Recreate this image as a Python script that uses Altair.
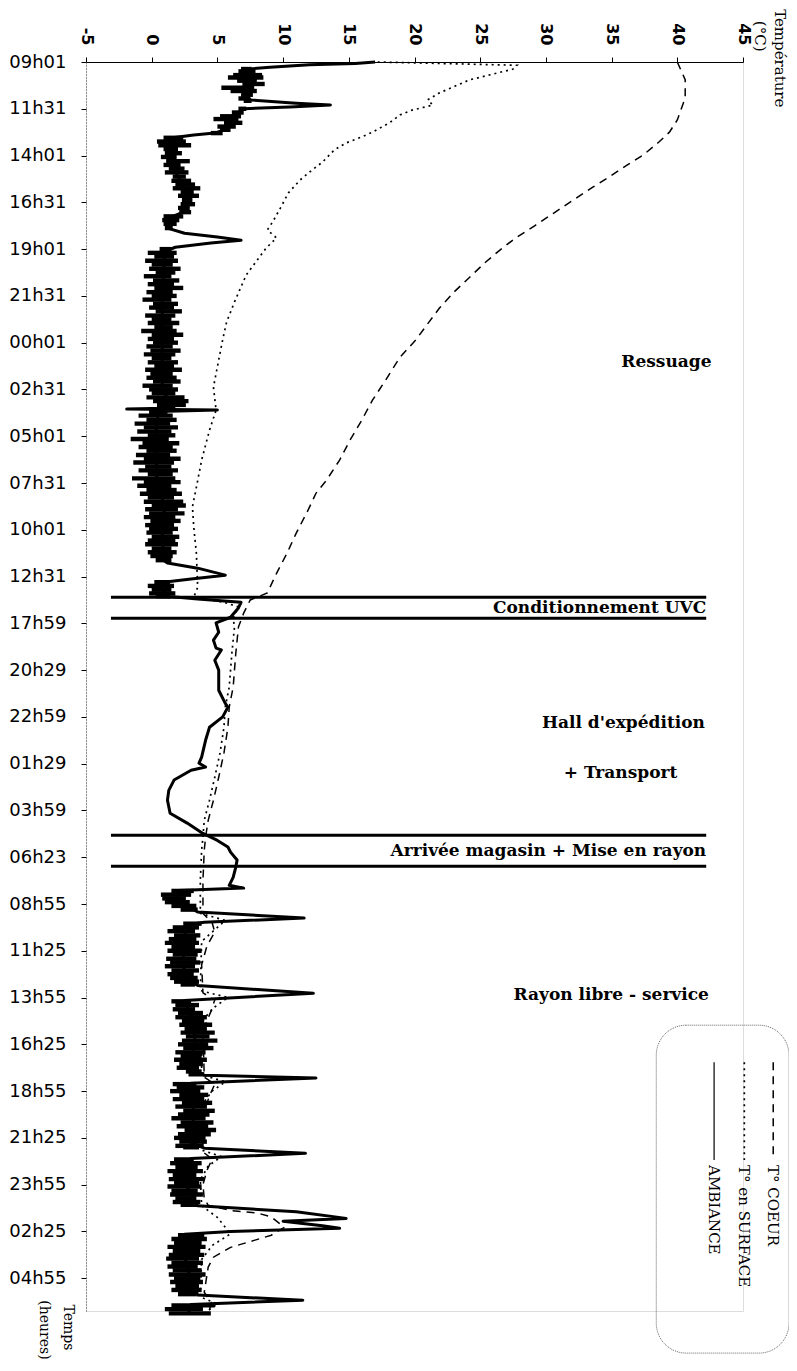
import altair as alt
import pandas as pd

# ---------------- data ----------------
TIME_LABELS = ["09h01", "11h31", "14h01", "16h31", "19h01", "21h31", "00h01", "02h31",
               "05h01", "07h31", "10h01", "12h31", "17h59", "20h29", "22h59", "01h29",
               "03h59", "06h23", "08h55", "11h25", "13h55", "16h25", "18h55", "21h25",
               "23h55", "02h25", "04h55"]
TEMP_TICKS = [-5, 0, 5, 10, 15, 20, 25, 30, 35, 40, 45]

# (time position in tick units, temperature °C)
COEUR = [(0, 40.0), (0.38, 40.6), (0.77, 40.6), (1.24, 40.0), (1.5, 39.4), (1.71, 38.6),
         (1.99, 37.4), (2.2, 36.2), (2.46, 34.8), (2.67, 33.6), (2.95, 32.1), (3.23, 30.6),
         (3.49, 29.2), (3.76, 27.7), (4.02, 26.5), (4.28, 25.4), (4.6, 24.2), (4.92, 23.0),
         (5.26, 21.9), (5.56, 21.1), (5.94, 20.1), (6.31, 18.9), (6.8, 17.8), (7.23, 16.8),
         (7.65, 16.0), (8.08, 15.1), (8.51, 14.3), (8.94, 13.3), (9.22, 12.5), (9.58, 11.9),
         (10.07, 11.0), (10.5, 10.3), (10.93, 9.5), (11.35, 8.8), (11.5, 7.5), (11.78, 7.0),
         (12.08, 6.6), (12.64, 6.4), (13.36, 6.2), (13.79, 5.9), (14.22, 5.8), (14.77, 5.5),
         (15.29, 5.1), (15.78, 4.7), (16.21, 4.3), (16.57, 4.1), (16.85, 4.0), (17.49, 3.9),
         (18.2, 3.9), (18.4, 4.6), (18.6, 4.8), (18.9, 4.2), (19.3, 3.8), (19.9, 3.9),
         (20.05, 4.8), (20.3, 4.5), (20.7, 3.9), (21.7, 4.0), (21.85, 4.8), (22.1, 4.4),
         (22.5, 3.9), (23.3, 3.9), (23.45, 4.6), (23.7, 4.2), (24.0, 3.9), (24.3, 4.0),
         (24.44, 4.3), (24.55, 6.0), (24.61, 8.1), (24.69, 9.1), (24.91, 10.1), (25.08, 9.1),
         (25.19, 7.8), (25.34, 6.0), (25.55, 4.7), (25.76, 4.3), (26.3, 4.0), (26.55, 4.6),
         (26.75, 4.2)]

SURFACE = [(0, 17.2), (0.07, 27.8), (0.15, 27.5), (0.2, 26.8), (0.32, 25.1), (0.38, 24.2),
           (0.49, 23.3),
           (0.66, 21.9), (0.81, 21.0), (0.92, 21.4), (1.03, 19.8), (1.13, 18.9), (1.3, 18.1),
           (1.5, 16.8), (1.6, 16.0), (1.73, 14.8), (1.88, 13.9), (2.14, 13.0), (2.31, 12.2),
           (2.52, 11.3), (2.8, 10.4), (3.12, 9.8), (3.42, 9.2), (3.59, 8.8), (3.76, 9.5),
           (3.98, 8.7), (4.55, 7.2), (5.13, 6.3), (5.56, 5.7), (5.94, 5.4), (6.37, 5.1),
           (6.95, 4.7), (7.44, 4.9), (7.87, 4.4), (8.51, 3.8), (9.09, 3.4), (9.51, 3.1),
           (9.94, 3.2), (10.5, 3.4), (11.23, 3.5), (11.44, 3.2), (11.55, 5.5), (11.65, 6.6),
           (11.89, 6.2), (12.08, 6.3), (12.64, 6.1), (13.36, 5.9), (13.79, 5.6), (14.22, 5.5),
           (14.77, 5.2), (15.29, 4.8), (15.78, 4.4), (16.21, 4.0), (16.57, 3.9), (16.85, 3.8),
           (17.49, 3.7), (18.2, 3.7), (18.35, 5.6), (18.5, 5.0), (18.8, 3.8), (19.85, 3.7),
           (20.0, 5.8), (20.2, 4.8), (20.5, 3.8), (21.65, 3.8), (21.8, 5.6), (22.0, 4.6),
           (22.3, 3.8), (23.25, 3.7), (23.4, 5.3), (23.6, 4.3), (23.9, 3.7), (24.45, 3.8),
           (24.7, 5.0), (25.05, 6.0), (25.3, 4.6), (25.6, 3.8), (26.4, 3.7), (26.55, 5.0),
           (26.75, 4.0)]

AMBIANCE = [(0, 17.0), (0.03, 15.5), (0.06, 12.0), (0.11, 9.0), (0.15, 7.4), (0.3, 7.2),
            (0.5, 7.4), (0.7, 7.2), (0.81, 7.5), (0.88, 11.0), (0.92, 13.6), (0.96, 10.5),
            (1.0, 7.0), (1.15, 6.2), (1.3, 6.0), (1.45, 5.5), (1.52, 4.8), (1.56, 3.2),
            (1.62, 1.6), (1.8, 1.4), (2.1, 1.6), (2.4, 1.9), (2.7, 2.5), (2.95, 2.7),
            (3.2, 2.5), (3.3, 1.6), (3.55, 1.2), (3.66, 2.5), (3.74, 5.0), (3.81, 6.8),
            (3.87, 4.5), (3.96, 1.8), (4.05, 1.0), (5.0, 0.8), (6.0, 0.8), (7.0, 0.8),
            (7.33, 1.5), (7.4, 1.0), (7.42, -1.9), (7.44, 5.0), (7.47, 0.5), (8.0, 0.3),
            (9.0, 0.4), (9.5, 1.0), (10.0, 0.8), (10.65, 0.9), (10.71, 1.2), (10.82, 3.5),
            (10.97, 5.6), (11.05, 3.0), (11.12, 0.9), (11.42, 0.9), (11.44, 2.0), (11.48, 3.5),
            (11.55, 6.8), (11.67, 6.6), (11.87, 6.0), (11.99, 4.9), (12.19, 5.1), (12.36, 4.7),
            (12.53, 4.9), (12.57, 5.3), (12.79, 4.8), (13.0, 5.1), (13.43, 5.1), (13.71, 5.6),
            (13.79, 5.8), (14.0, 5.4), (14.22, 4.4), (14.5, 4.1), (14.86, 3.8), (14.99, 3.6),
            (15.07, 4.1), (15.14, 3.0), (15.35, 1.7), (15.57, 1.3), (15.78, 1.2), (16.06, 1.4),
            (16.27, 2.7), (16.49, 3.9), (16.64, 5.0), (16.78, 5.8), (16.89, 6.0), (17.06, 6.5),
            (17.21, 6.4), (17.43, 6.2), (17.6, 5.9), (17.66, 7.0), (17.71, 2.0), (17.9, 1.8),
            (18.17, 3.5), (18.3, 11.6), (18.39, 4.0), (18.45, 2.6), (19.0, 2.4), (19.6, 2.5),
            (19.74, 3.5), (19.91, 12.3), (20.06, 2.5), (20.5, 3.2), (21.0, 3.3), (21.5, 2.8),
            (21.66, 4.0), (21.72, 12.5), (21.83, 3.0), (22.5, 3.2), (23.1, 3.0), (23.22, 4.0),
            (23.33, 11.7), (23.44, 3.0), (24.0, 2.6), (24.45, 3.5), (24.58, 11.0), (24.72, 14.8),
            (24.78, 10.0), (24.88, 13.0), (24.93, 14.3), (25.0, 6.0), (25.06, 2.5), (25.7, 2.6),
            (26.36, 3.5), (26.47, 11.5), (26.56, 3.0), (26.75, 2.8)]

# noisy envelope of the ambient record: (segment, time, low, high)
AMB_BAND = [
    (1, 0.15, 6.8, 7.6), (1, 0.2, 6.6, 7.9), (1, 0.28, 6.2, 8.4), (1, 0.33, 5.8, 8.5),
    (1, 0.4, 6.5, 8.0), (1, 0.47, 6.9, 8.6), (1, 0.55, 5.3, 7.8), (1, 0.62, 6.0, 8.0),
    (1, 0.7, 6.8, 7.7), (1, 0.78, 6.6, 7.5), (1, 0.83, 7.0, 7.6),
    (2, 1.0, 6.6, 7.2), (2, 1.08, 6.1, 7.0), (2, 1.16, 5.2, 6.8), (2, 1.22, 4.7, 6.6),
    (2, 1.3, 5.5, 6.9), (2, 1.38, 5.0, 6.4), (2, 1.45, 5.2, 6.0), (2, 1.52, 4.5, 5.4),
    (3, 1.62, 0.9, 2.4), (3, 1.7, 0.4, 2.6), (3, 1.78, 0.5, 3.0), (3, 1.86, 0.9, 2.0),
    (3, 1.95, 1.0, 2.3), (3, 2.03, 0.7, 1.9), (3, 2.12, 1.1, 2.9), (3, 2.2, 0.9, 2.2),
    (3, 2.28, 1.3, 2.5), (3, 2.36, 1.0, 2.8), (3, 2.45, 1.6, 2.6), (3, 2.54, 1.5, 3.0),
    (3, 2.62, 1.8, 3.3), (3, 2.7, 1.6, 3.7), (3, 2.78, 2.2, 3.2), (3, 2.86, 2.0, 3.6),
    (3, 2.95, 2.3, 3.1), (3, 3.04, 2.2, 3.3), (3, 3.12, 2.0, 2.9), (3, 3.21, 2.1, 3.0),
    (3, 3.3, 0.9, 2.4), (3, 3.38, 0.8, 2.1), (3, 3.46, 0.9, 1.9), (3, 3.55, 1.0, 1.6),
    (4, 4.0, 0.6, 1.5), (4, 4.08, -0.3, 1.9), (4, 4.16, 0.2, 1.7), (4, 4.25, -0.5, 2.0),
    (4, 4.33, 0.0, 1.6), (4, 4.42, -0.2, 2.2), (4, 4.5, 0.3, 1.8), (4, 4.58, -0.6, 1.5),
    (4, 4.67, 0.1, 2.1), (4, 4.75, -0.3, 1.7), (4, 4.83, 0.2, 2.4), (4, 4.92, -0.4, 1.6),
    (4, 5.0, 0.0, 1.9), (4, 5.08, -0.7, 1.5), (4, 5.17, 0.1, 2.0), (4, 5.25, -0.2, 1.7),
    (4, 5.33, 0.3, 2.3), (4, 5.42, -0.5, 1.8), (4, 5.5, 0.0, 1.5), (4, 5.58, -0.3, 2.1),
    (4, 5.67, 0.2, 1.6), (4, 5.75, -0.8, 1.9), (4, 5.83, 0.0, 2.4), (4, 5.92, -0.3, 1.7),
    (4, 6.0, 0.1, 2.0), (4, 6.08, -0.4, 1.6), (4, 6.17, -0.1, 2.2), (4, 6.25, -0.6, 1.8),
    (4, 6.33, 0.0, 1.5), (4, 6.42, -0.3, 2.0), (4, 6.5, 0.2, 1.7), (4, 6.58, -0.5, 2.3),
    (4, 6.67, -0.1, 1.6), (4, 6.75, -0.4, 1.9), (4, 6.83, 0.1, 2.2), (4, 6.92, -0.7, 1.6),
    (4, 7.0, -0.2, 2.0), (4, 7.08, 0.0, 1.8), (4, 7.17, -0.4, 2.5), (4, 7.25, 0.1, 2.8),
    (4, 7.33, 0.4, 2.6), (4, 7.38, 0.8, 1.8),
    (5, 7.48, -0.2, 1.2), (5, 7.56, -1.0, 1.6), (5, 7.65, -0.4, 1.9), (5, 7.73, -1.3, 1.4),
    (5, 7.81, -0.6, 2.0), (5, 7.9, -1.1, 1.5), (5, 7.98, -0.3, 1.8), (5, 8.06, -1.6, 1.3),
    (5, 8.15, -0.7, 2.1), (5, 8.23, -1.0, 1.6), (5, 8.31, -0.4, 1.9), (5, 8.4, -1.2, 1.4),
    (5, 8.48, -0.6, 2.2), (5, 8.56, -1.4, 1.7), (5, 8.65, -0.5, 1.5), (5, 8.73, -1.0, 2.0),
    (5, 8.81, -0.3, 1.6), (5, 8.9, -1.5, 1.8), (5, 8.98, -0.6, 2.2), (5, 9.06, -1.1, 1.5),
    (5, 9.15, -0.4, 1.9), (5, 9.23, -0.9, 2.3), (5, 9.31, -0.3, 1.7), (5, 9.4, -0.6, 2.4),
    (5, 9.48, 0.0, 2.6), (5, 9.56, -0.5, 2.0), (5, 9.65, -0.2, 2.5), (5, 9.73, -0.6, 1.8),
    (5, 9.81, -0.1, 2.2), (5, 9.9, -0.5, 1.7), (5, 9.98, -0.2, 2.0), (5, 10.06, -0.4, 1.6),
    (5, 10.15, 0.0, 2.1), (5, 10.23, -0.3, 1.8), (5, 10.31, -0.5, 2.0), (5, 10.4, 0.0, 1.5),
    (5, 10.48, -0.3, 1.9), (5, 10.56, -0.1, 1.6), (5, 10.65, 0.3, 1.5),
    (6, 11.12, 0.2, 1.4), (6, 11.2, -0.3, 1.7), (6, 11.28, 0.0, 1.5), (6, 11.36, -0.2, 1.8),
    (6, 11.42, 0.3, 1.4),
    (7, 17.72, 1.5, 3.2), (7, 17.8, 0.7, 3.0), (7, 17.88, 0.8, 2.6), (7, 17.96, 1.0, 2.9),
    (7, 18.04, 1.5, 3.4), (7, 18.12, 2.2, 3.5),
    (8, 18.42, 2.4, 3.8), (8, 18.5, 1.6, 3.6), (8, 18.58, 1.2, 3.3), (8, 18.67, 1.7, 3.7),
    (8, 18.75, 1.3, 3.4), (8, 18.83, 1.0, 3.6), (8, 18.92, 1.5, 3.3), (8, 19.0, 1.2, 3.8),
    (8, 19.08, 1.6, 3.5), (8, 19.17, 1.1, 3.4), (8, 19.25, 1.4, 3.7), (8, 19.33, 1.0, 3.3),
    (8, 19.42, 1.5, 3.6), (8, 19.5, 1.2, 3.2), (8, 19.58, 1.4, 3.5), (8, 19.66, 1.7, 3.6),
    (8, 19.72, 2.2, 3.3),
    (9, 20.08, 1.5, 3.0), (9, 20.16, 1.8, 3.6), (9, 20.25, 1.6, 3.3), (9, 20.33, 2.0, 3.9),
    (9, 20.42, 1.8, 4.2), (9, 20.5, 2.3, 4.0), (9, 20.58, 2.1, 4.6), (9, 20.67, 2.5, 4.2),
    (9, 20.75, 2.2, 4.8), (9, 20.83, 2.6, 4.4), (9, 20.92, 2.3, 5.0), (9, 21.0, 2.0, 4.3),
    (9, 21.08, 2.4, 4.7), (9, 21.17, 1.8, 4.1), (9, 21.25, 2.2, 3.8), (9, 21.33, 1.7, 4.2),
    (9, 21.42, 2.1, 3.9), (9, 21.5, 1.9, 3.6), (9, 21.58, 2.6, 3.8), (9, 21.64, 2.8, 4.0),
    (10, 21.85, 1.6, 3.4), (10, 21.92, 1.9, 4.0), (10, 22.0, 1.4, 3.7), (10, 22.08, 2.1, 4.3),
    (10, 22.17, 1.6, 4.0), (10, 22.25, 2.3, 4.6), (10, 22.33, 1.8, 4.2), (10, 22.42, 2.4, 4.8),
    (10, 22.5, 2.0, 4.4), (10, 22.58, 1.5, 4.1), (10, 22.67, 2.2, 4.7), (10, 22.75, 1.9, 4.3),
    (10, 22.83, 2.5, 4.9), (10, 22.92, 2.0, 4.5), (10, 23.0, 1.7, 4.1), (10, 23.08, 2.1, 4.2),
    (10, 23.17, 1.8, 3.9), (10, 23.2, 2.4, 3.6),
    (11, 23.46, 1.7, 3.2), (11, 23.54, 1.4, 3.8), (11, 23.62, 1.8, 3.5), (11, 23.71, 1.2, 3.9),
    (11, 23.79, 1.6, 3.4), (11, 23.88, 1.3, 4.0), (11, 23.96, 1.7, 3.6), (11, 24.04, 1.2, 3.8),
    (11, 24.13, 1.5, 3.5), (11, 24.21, 1.4, 3.9), (11, 24.29, 1.8, 3.4), (11, 24.37, 1.6, 3.7),
    (11, 24.43, 2.2, 3.5),
    (12, 25.08, 2.0, 4.0), (12, 25.16, 1.5, 4.2), (12, 25.25, 1.7, 3.8), (12, 25.33, 1.2, 4.1),
    (12, 25.42, 1.6, 3.7), (12, 25.5, 1.3, 4.0), (12, 25.58, 1.1, 3.6), (12, 25.67, 1.5, 3.9),
    (12, 25.75, 1.2, 3.5), (12, 25.83, 1.6, 3.8), (12, 25.92, 1.3, 4.1), (12, 26.0, 1.7, 3.7),
    (12, 26.08, 1.4, 3.9), (12, 26.17, 1.8, 3.6), (12, 26.25, 1.5, 3.8), (12, 26.34, 2.0, 3.4),
    (13, 26.58, 1.5, 4.8), (13, 26.66, 1.0, 3.9), (13, 26.75, 1.3, 4.5),
]

# phase separation lines (time positions) and their temperature extent
PHASE_T = [11.44, 11.89, 16.53, 17.19]
PHASE_X = (-3.1, 42.2)

# annotations: (text, temperature of right end, time position)
PHASES = [("Ressuage", 42.6, 6.41),
          ("Conditionnement UVC", 42.2, 11.68),
          ("Hall d'expédition", 42.1, 14.13),
          ("+ Transport", 40.0, 15.20),
          ("Arrivée magasin + Mise en rayon", 42.2, 16.86),
          ("Rayon libre - service", 42.4, 19.95)]

# ---------------- helpers ----------------
XS = alt.Scale(domain=[-5, 45], nice=False, zero=False)
YS = alt.Scale(domain=[0, 26.7], nice=False, zero=False, reverse=True)
label_js = "[" + ",".join("'%s'" % s for s in TIME_LABELS) + "][datum.value]"

X_AXIS = alt.Axis(orient="top", values=TEMP_TICKS, title=None, grid=False,
                  labelExpr="'' + datum.value",
                  labelAngle=90, labelAlign="right", labelBaseline="middle",
                  labelFont="DejaVu Sans", labelFontSize=16, labelFontWeight="bold",
                  labelColor="#000", labelPadding=12, tickSize=5, tickColor="#000",
                  domainColor="#000", domainWidth=1)
Y_AXIS = alt.Axis(values=list(range(len(TIME_LABELS))), labelExpr=label_js, title=None,
                  grid=False, labelFont="DejaVu Sans", labelFontSize=18, labelColor="#000",
                  labelPadding=15, tickSize=5, tickColor="#000", domainColor="#444",
                  domainDash=[1, 2], labelOverlap=False)


def X(f):
    return alt.X(f, type="quantitative", scale=XS, axis=X_AXIS, title=None)


def Y(f):
    return alt.Y(f, type="quantitative", scale=YS, axis=Y_AXIS, title=None)


def series(pairs):
    return pd.DataFrame(pairs, columns=["t", "v"])


SERIF = "DejaVu Serif"

band_df = pd.DataFrame(AMB_BAND, columns=["seg", "t", "lo", "hi"])
band = alt.Chart(band_df).mark_rule(color="#000", strokeWidth=4.4).encode(
    y=Y("t"), x=X("lo"), x2="hi")

amb = alt.Chart(series(AMBIANCE)).mark_line(color="#000", strokeWidth=3,
                                             strokeJoin="round").encode(
    y=Y("t"), x=X("v"), order="t:Q")

coeur = alt.Chart(series(COEUR)).mark_line(color="#000", strokeWidth=1.5,
                                            strokeDash=[8, 6]).encode(
    y=Y("t"), x=X("v"), order="t:Q")

surf = alt.Chart(series(SURFACE)).mark_line(color="#000", strokeWidth=1.7,
                                             strokeDash=[2, 4]).encode(
    y=Y("t"), x=X("v"), order="t:Q")

phase_df = pd.DataFrame({"t": PHASE_T, "x1": PHASE_X[0], "x2": PHASE_X[1]})
rules = alt.Chart(phase_df).mark_rule(color="#000", strokeWidth=3).encode(
    y=Y("t"), x=X("x1"), x2="x2")

ann_df = pd.DataFrame(PHASES, columns=["label", "x", "t"])
ann = alt.Chart(ann_df).mark_text(font=SERIF, fontSize=17, fontWeight="bold",
                                  align="right", baseline="middle", color="#000").encode(
    y=Y("t"), x=X("x"), text="label:N")

# axis titles (rotated, like the original)
titles_df = pd.DataFrame([("Température", 47.8, -1.13, 15), ("(°C)", 46.3, -0.88, 15),
                          ("Temps", -6.4, 26.56, 14), ("(heures)", -8.2, 26.47, 14)],
                         columns=["label", "x", "t", "size"])
titles = alt.Chart(titles_df).mark_text(font=SERIF, angle=90, align="left",
                                        baseline="middle", color="#000").encode(
    y=Y("t"), x=X("x"), text="label:N",
    size=alt.Size("size:Q", scale=None, legend=None))

# legend drawn inside a rounded box
box_df = pd.DataFrame([{"x1": 38.4, "x2": 48.5, "t1": 20.59, "t2": 27.6}])
box = alt.Chart(box_df).mark_rect(fillOpacity=0, stroke="#666", strokeWidth=1,
                                  strokeDash=[1, 1], cornerRadius=30).encode(
    x=X("x1"), x2="x2", y=Y("t1"), y2="t2")

LEG = [("T° COEUR", 47.3, [8, 6], 1.5), ("T° en SURFACE", 45.1, [2, 4], 1.7),
       ("AMBIANCE", 42.8, [1, 0], 1.2)]
leg_layers = []
for name, lx, dash, w in LEG:
    d = pd.DataFrame([{"x": lx, "t1": 21.38, "t2": 23.47, "tt": 23.58, "label": name}])
    leg_layers.append(alt.Chart(d).mark_rule(color="#000", strokeWidth=w,
                                             strokeDash=dash).encode(
        x=X("x"), y=Y("t1"), y2="t2"))
    leg_layers.append(alt.Chart(d).mark_text(font=SERIF, fontSize=15, angle=90,
                                             align="left", baseline="middle",
                                             color="#000").encode(
        x=X("x"), y=Y("tt"), text="label:N"))

chart = alt.layer(band, amb, coeur, surf, rules, ann, titles, box, *leg_layers).properties(
    width=657, height=1249,
    autosize=alt.AutoSizeParams(type="none"),
    padding={"left": 78, "top": 54, "right": 46, "bottom": 50},
).configure_view(stroke=None).configure(background="#ffffff")

chart.save("out.html", embed_options={"renderer": "svg", "actions": False})
